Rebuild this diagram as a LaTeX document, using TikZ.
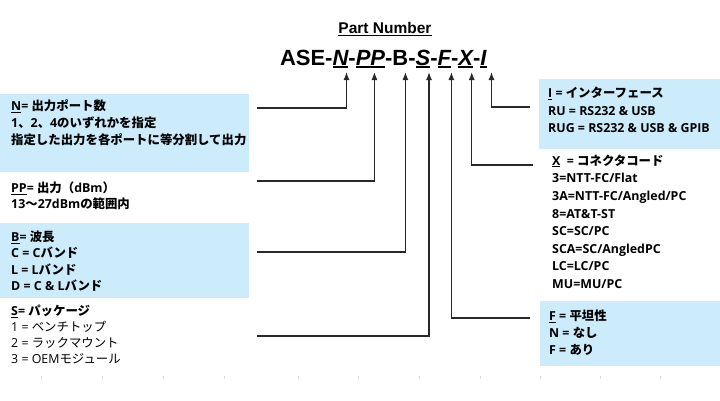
\documentclass[tikz,border=0pt]{standalone}
\usepackage{fontspec}
\setmainfont{Open Sans}
\newfontfamily\jpfont{Noto Sans CJK JP}
\newfontfamily\pnfont{Liberation Sans}
\usetikzlibrary{arrows.meta,positioning}
\definecolor{infoblue}{RGB}{204,236,252}
\definecolor{pnline}{RGB}{40,40,40}
\newcommand{\jp}[1]{{\jpfont #1}}
\newcommand{\pnu}[1]{\setbox0\hbox{\itshape #1}\rlap{\rule[-2.6pt]{\wd0}{1.8pt}}\box0}

\begin{document}
\begin{tikzpicture}[x=1pt,y=-1pt]

\useasboundingbox (0,0) rectangle (720,400);

\tikzset{infobox/.style={fill=infoblue,inner sep=0pt,outer sep=0pt,anchor=north west},}
\tikzset{spec/.style={align=left,inner sep=0pt,anchor=north west,execute at begin node=\strut},}
\tikzset{pn/.style={inner sep=0pt,outer xsep=0pt,outer ysep=4pt,anchor=base west,text depth=3pt,font=\pnfont\bfseries\fontsize{22}{26}\selectfont},}
\tikzset{pnarrow/.style={-{Latex[length=8pt,width=6pt]},line width=1.3pt,pnline},}
\tikzset{tick/.style={gray!30,line width=0.8pt},}

	% blue boxes
	\node[infobox,minimum width=249pt,minimum height=78pt] (nBox) at (0,94) {};
	\node[infobox,minimum width=249pt,minimum height=75pt] (bBox) at (0,223) {};
	\node[infobox,minimum width=181pt,minimum height=70pt] (iBox) at (539,79) {};
	\node[infobox,minimum width=180pt,minimum height=65pt] (fBox) at (540,301) {};

	% part number
	\node[font=\pnfont\bfseries\fontsize{15.5}{18}\selectfont] (title) at (385,29) {\underline{Part Number}};
	\node[pn] (ase) at (280,65) {ASE-};
	\node[pn] (N) at (ase.base east) {\pnu{N}};
	\node[pn] (h1) at (N.base east) {-};
	\node[pn] (PP) at (h1.base east) {\pnu{PP}};
	\node[pn] (h2) at (PP.base east) {-};
	\node[pn] (B) at (h2.base east) {B};
	\node[pn] (h3) at (B.base east) {-};
	\node[pn] (S) at (h3.base east) {\pnu{S}};
	\node[pn] (h4) at (S.base east) {-};
	\node[pn] (F) at (h4.base east) {\pnu{F}};
	\node[pn] (h5) at (F.base east) {-};
	\node[pn] (X) at (h5.base east) {\pnu{X}};
	\node[pn] (h6) at (X.base east) {-};
	\node[pn] (I) at (h6.base east) {\pnu{I}};

	% left column
	\node[spec,font=\fontsize{12.4}{17}\selectfont\bfseries] (nText) at (11,99.5)
		{\underline{N}= \jp{出力ポート数}\\
		 1\jp{、}2\jp{、}4\jp{のいずれかを指定}\\
		 \jp{指定した出力を各ポートに等分割して出力}};
	\node[spec,font=\fontsize{12.4}{16.5}\selectfont\bfseries] (ppText) at (11,181.5)
		{\underline{PP}= \jp{出力（}dBm\jp{）}\\
		 13\jp{～}27dBm\jp{の範囲内}};
	\node[spec,font=\fontsize{12.4}{16.5}\selectfont\bfseries] (bText) at (11,230.5)
		{\underline{B}= \jp{波長}\\
		 C = C\jp{バンド}\\
		 L = L\jp{バンド}\\
		 D = C \& L\jp{バンド}};
	\node[spec,font=\fontsize{12.4}{16}\selectfont] (sText) at (11,304.5)
		{{\bfseries\underline{S}= \jp{パッケージ}}\\
		 1 = \jp{ベンチトップ}\\
		 2 = \jp{ラックマウント}\\
		 3 = OEM\jp{モジュール}};

	% right column
	\node[spec,font=\fontsize{12.4}{17.5}\selectfont\bfseries] (iText) at (548,87)
		{\underline{I} = \jp{インターフェース}\\
		 RU = RS232 \& USB\\
		 RUG = RS232 \& USB \& GPIB};
	\node[spec,font=\fontsize{12.4}{17.6}\selectfont\bfseries] (xText) at (552,154.5)
		{\underline{X}\ \ = \jp{コネクタコード}\\
		 3=NTT-FC/Flat\\
		 3A=NTT-FC/Angled/PC\\
		 8=AT\&T-ST\\
		 SC=SC/PC\\
		 SCA=SC/AngledPC\\
		 LC=LC/PC\\
		 MU=MU/PC};
	\node[spec,font=\fontsize{12.4}{17}\selectfont\bfseries] (fText) at (549,309.5)
		{\underline{F} = \jp{平坦性}\\
		 N = \jp{なし}\\
		 F = \jp{あり}};

	% connector ends
	\coordinate (nS) at (257,108);
	\coordinate (ppS) at (257,181);
	\coordinate (bS) at (257,252);
	\coordinate (sS) at (257,336);
	\coordinate (iS) at (530,107);
	\coordinate (xS) at (533,165);
	\coordinate (fS) at (530,318);

	\draw[pnarrow] (nS) -| ([xshift=6pt]N.south);
	\draw[pnarrow] (ppS) -| ([xshift=4pt]PP.south);
	\draw[pnarrow] (bS) -| ([xshift=5pt]B.south);
	\draw[pnarrow] (sS) -| ([xshift=6pt]S.south);
	\draw[pnarrow] (fS) -| ([xshift=7pt]F.south);
	\draw[pnarrow] (xS) -| ([xshift=6pt]X.south);
	\draw[pnarrow] (iS) -| ([xshift=8pt]I.south);

	% ruler ticks
	\foreach \x in {41,102,163,224,298,358,419,480,540,600,660}
		\draw[tick] (\x,376) -- (\x,379);

\end{tikzpicture}
\end{document}
